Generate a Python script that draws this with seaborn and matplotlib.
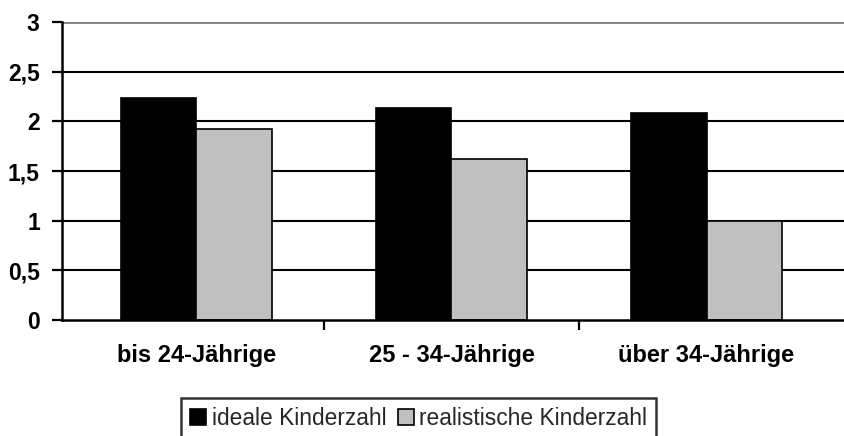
import matplotlib
matplotlib.use("Agg")
import matplotlib.pyplot as plt
import seaborn as sns
import pandas as pd
from matplotlib.ticker import FuncFormatter, FixedLocator

categories = ["bis 24-Jährige", "25 - 34-Jährige", "über 34-Jährige"]
ideal = [2.23, 2.13, 2.08]
realistic = [1.92, 1.62, 1.00]
series_names = ["ideale Kinderzahl", "realistische Kinderzahl"]
y_ticks = [0, 0.5, 1, 1.5, 2, 2.5, 3]

df = pd.DataFrame({
    "Kategorie": categories * 2,
    "Wert": ideal + realistic,
    "Serie": [series_names[0]] * 3 + [series_names[1]] * 3,
})

sns.set_theme(style="white")
plt.rcParams["font.family"] = ["Liberation Sans", "DejaVu Sans"]

fig = plt.figure(figsize=(8.44, 4.36), dpi=100)
ax = fig.add_axes([62 / 844, 116 / 436, 1 - 62 / 844, 298 / 436])

# grid lines
for t in y_ticks[1:-1]:
    ax.axhline(t, color="black", lw=1.5, zorder=0)
ax.axhline(3, color="#808080", lw=2.0, zorder=0)

sns.barplot(data=df, x="Kategorie", y="Wert", hue="Serie",
            palette=["#000000", "#C0C0C0"], edgecolor="black",
            linewidth=1.2, width=0.59, gap=0, ax=ax, zorder=2,
            legend=True)

ax.set_ylim(0, 3)
ax.set_xlim(-0.527, 2.539)
ax.set_yticks(y_ticks)
ax.yaxis.set_major_formatter(FuncFormatter(
    lambda v, p: ("%g" % v).replace(".", ",")))
ax.set_xlabel("")
ax.set_ylabel("")

# category labels at centres, ticks at boundaries
ax.set_xticks(range(len(categories)))
ax.set_xticklabels(categories)
ax.xaxis.set_minor_locator(FixedLocator([0.5, 1.5]))
ax.tick_params(axis="x", which="major", length=0, pad=17, labelsize=17)
ax.tick_params(axis="x", which="minor", length=7, width=1.6,
               direction="out", color="black", bottom=True)
ax.tick_params(axis="y", length=7, width=1.6, direction="out",
               color="black", left=True, labelsize=16.5, pad=9)
for lab in ax.get_xticklabels() + ax.get_yticklabels():
    lab.set_fontweight("bold")
    lab.set_color("black")

for s in ["top", "right"]:
    ax.spines[s].set_visible(False)
for s in ["left", "bottom"]:
    ax.spines[s].set_color("black")
    ax.spines[s].set_linewidth(1.8)
ax.spines["bottom"].set_zorder(3)

handles, labels = ax.get_legend_handles_labels()
ax.get_legend().remove()
leg = fig.legend(handles, labels, loc="upper center",
                 bbox_to_anchor=(0.496, 0.0872), ncol=2, frameon=True,
                 fancybox=False, edgecolor="black", fontsize=16.4,
                 handlelength=0.7, handleheight=0.7, handletextpad=0.25,
                 columnspacing=0.5, borderpad=0.4, borderaxespad=0)
leg.get_frame().set_linewidth(1.8)

fig.savefig("out.png", dpi=100)
